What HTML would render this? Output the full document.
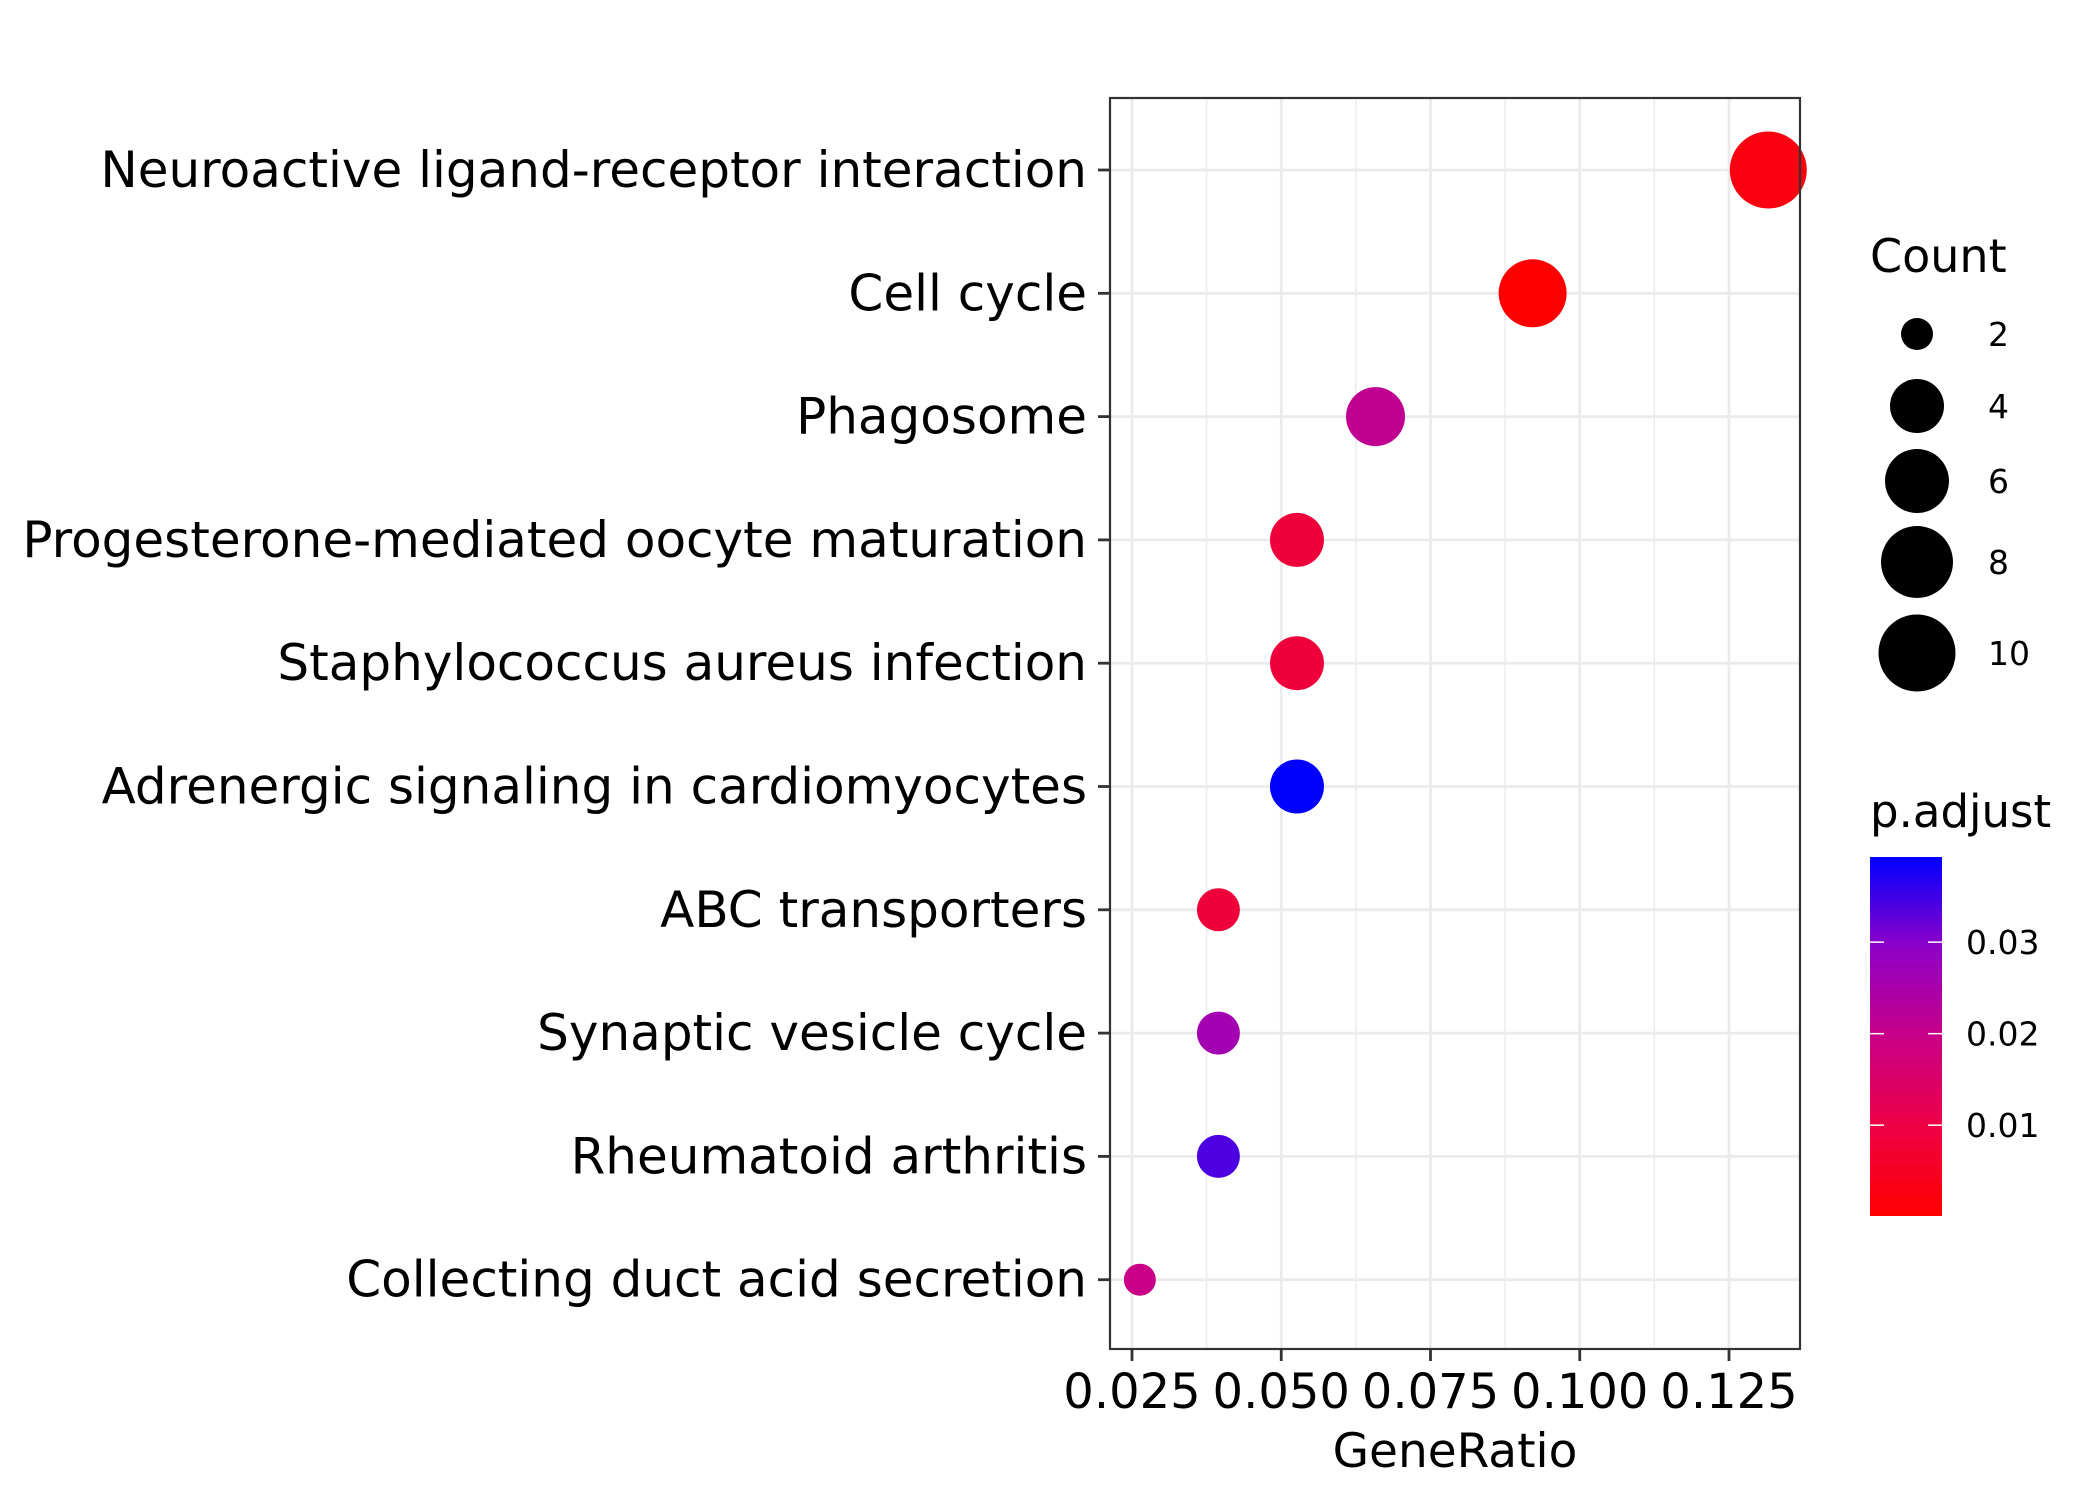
<!DOCTYPE html>
<html><head><meta charset="utf-8"><style>
html,body{margin:0;padding:0;background:#fff;}
svg{display:block;font-family:"DejaVu Sans","Liberation Sans",sans-serif;}
</style></head><body>
<svg id="chart" width="2100" height="1500" viewBox="0 0 2100 1500" xmlns="http://www.w3.org/2000/svg">
<defs>
<linearGradient id="pgrad" x1="0" y1="1" x2="0" y2="0">
<stop offset="0" stop-color="#ff0000"/><stop offset="0.25" stop-color="#ee0045"/><stop offset="0.5" stop-color="#c80088"/><stop offset="0.75" stop-color="#8e00c8"/><stop offset="1" stop-color="#0000ff"/>
</linearGradient>
</defs>
<g id="grid"></g>
<g id="pts"></g>
<rect x="1110" y="98" width="690" height="1251" fill="none" stroke="#333" stroke-width="2.2"/>
<g id="axes"></g>
<text x="1455" y="1467" font-size="47" text-anchor="middle">GeneRatio</text>
<text x="1870" y="272" font-size="46">Count</text>
<g id="sizeLegend"></g>
<text x="1870" y="827" font-size="45">p.adjust</text>
<rect x="1870" y="857" width="72" height="359" fill="url(#pgrad)"/>
<g id="colorLegend"></g>
</svg>
<script>
const categories = ["Neuroactive ligand-receptor interaction","Cell cycle","Phagosome","Progesterone-mediated oocyte maturation","Staphylococcus aureus infection","Adrenergic signaling in cardiomyocytes","ABC transporters","Synaptic vesicle cycle","Rheumatoid arthritis","Collecting duct acid secretion"];
const geneRatio = [10/76, 7/76, 5/76, 4/76, 4/76, 4/76, 3/76, 3/76, 3/76, 2/76];
const counts = [10, 7, 5, 4, 4, 4, 3, 3, 3, 2];
const padjust = [0.0025, 0.0002, 0.021, 0.0085, 0.0085, 0.0393, 0.0085, 0.026, 0.034, 0.0195];
const xTicks = [0.025, 0.05, 0.075, 0.1, 0.125];
const xTickLabels = ["0.025","0.050","0.075","0.100","0.125"];
const sizeBreaks = [2, 4, 6, 8, 10];
const colorBreaks = [0.01, 0.02, 0.03];
const colorBreakLabels = ["0.01","0.02","0.03"];

const NS = "http://www.w3.org/2000/svg";
const X0 = 1132, XS = 5970;
const xScale = v => X0 + (v - 0.025) * XS;
const yScale = i => 170 + i * 123.3;
const pMin = 0.00008, pMax = 0.0393;
const cbY = p => 1216 - (p - pMin) / (pMax - pMin) * 359;
const stops = [[255,0,0],[238,0,69],[200,0,136],[142,0,200],[0,0,255]];
function colorOf(p){
  let t = Math.max(0, Math.min(1, (p - pMin) / (pMax - pMin))) * 4;
  let i = Math.min(3, Math.floor(t)), f = t - i;
  const c = stops[i].map((a,k)=>Math.round(a + (stops[i+1][k]-a)*f));
  return `rgb(${c[0]},${c[1]},${c[2]})`;
}
const rKnots = [[2,16],[4,27],[6,32],[8,36],[10,38.5]];
function rOf(c){
  for (let k=0;k<rKnots.length-1;k++){
    const [a,ra]=rKnots[k],[b,rb]=rKnots[k+1];
    if (c<=b) return ra + (rb-ra)*(c-a)/(b-a);
  }
  return 38.5;
}
function mk(tag, attrs, parent){
  const e = document.createElementNS(NS, tag);
  for (const k in attrs) e.setAttribute(k, attrs[k]);
  parent.appendChild(e); return e;
}
const grid = document.getElementById('grid');
const axes = document.getElementById('axes');
const pts = document.getElementById('pts');
for (let k=0;k<xTicks.length+1;k++){
  const v = 0.0125 + k*0.025;
  const x = xScale(v);
  if (x < 1110 || x > 1800) continue;
  const l = mk('line',{x1:x,x2:x,y1:98,y2:1349,stroke:'#ebebeb','stroke-width':1.4},grid);
  
  
}
xTicks.forEach((v,k)=>{
  const x = xScale(v);
  const l = mk('line',{x1:x,x2:x,y1:98,y2:1349,stroke:'#ebebeb','stroke-width':2.8},grid);
  
  
  const t = mk('line',{x1:x,x2:x,y1:1349,y2:1361,stroke:'#333','stroke-width':2.8},axes);
  
  
  const tx = mk('text',{x:x,y:1408,'font-size':48,'text-anchor':'middle',fill:'#000'},axes);
  tx.textContent = xTickLabels[k];
  
  
});
categories.forEach((c,i)=>{
  const y = yScale(i);
  const l = mk('line',{x1:1110,x2:1800,y1:y,y2:y,stroke:'#ebebeb','stroke-width':2.8},grid);
  
  
  const t = mk('line',{x1:1098,x2:1110,y1:y,y2:y,stroke:'#333','stroke-width':2.8},axes);
  
  
  const tx = mk('text',{x:1087,y:y+17,'font-size':50,'text-anchor':'end',fill:'#000'},axes);
  tx.textContent = c;
  
  
  const p = mk('circle',{cx:xScale(geneRatio[i]),cy:y,r:rOf(counts[i]),fill:colorOf(padjust[i])},pts);
  
  
});
const sl = document.getElementById('sizeLegend');
const sY = [334,406,481,562,653];
sizeBreaks.forEach((s,k)=>{
  const c = mk('circle',{cx:1917,cy:sY[k],r:rOf(s),fill:'#000'},sl);
  
  
  const t = mk('text',{x:1988,y:sY[k]+12,'font-size':33,fill:'#000'},sl);
  t.textContent = s;
  
  
});
const cl = document.getElementById('colorLegend');
colorBreaks.forEach((p,k)=>{
  const y = cbY(p);
  const a = mk('line',{x1:1870,x2:1884,y1:y,y2:y,stroke:'#fff','stroke-width':1.5},cl);
  
  
  const b = mk('line',{x1:1928,x2:1942,y1:y,y2:y,stroke:'#fff','stroke-width':1.5},cl);
  
  
  const t = mk('text',{x:1966,y:y+12,'font-size':33,fill:'#000'},cl);
  t.textContent = colorBreakLabels[k];
  
  
});
</script>
</body></html>
